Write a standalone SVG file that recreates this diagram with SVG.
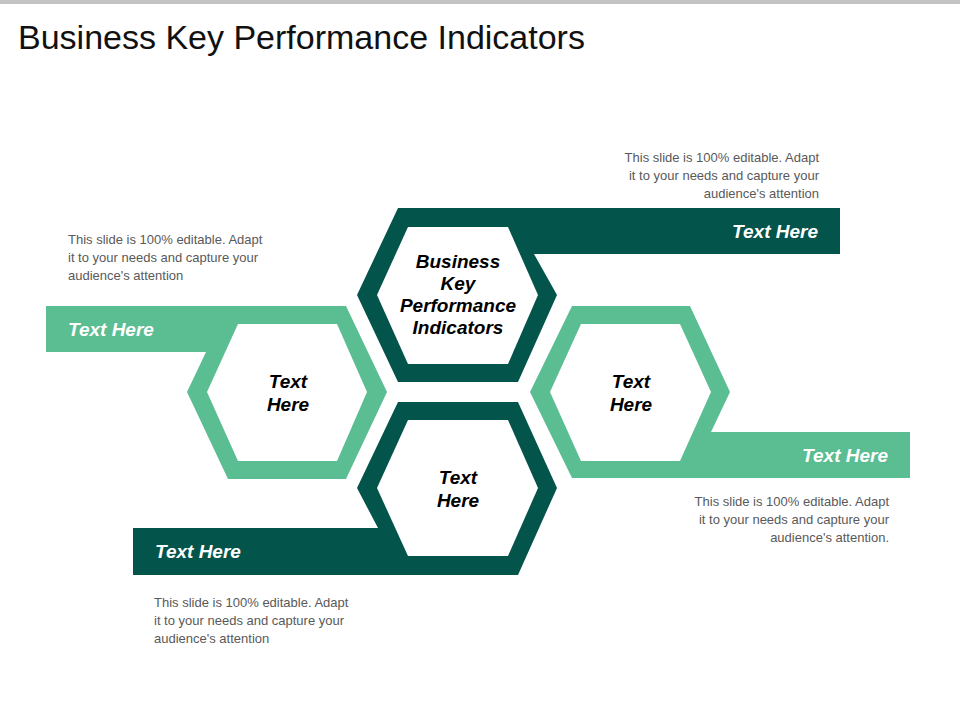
<svg xmlns="http://www.w3.org/2000/svg" width="960" height="720" viewBox="0 0 960 720">
<style>
.d{fill:#03544b}.l{fill:#5bbd92}.w{fill:#fff}
.t{font-family:"Liberation Sans",Arial,sans-serif;font-size:19px;font-weight:bold;font-style:italic}
.b{font-size:13px;fill:#595959;font-family:"Liberation Sans",Arial,sans-serif}
</style>
<rect x="0" y="0" width="960" height="720" fill="#fff"/>
<rect x="0" y="0" width="960" height="4" fill="#c4c4c4"/>
<text x="18" y="49" font-family="Liberation Sans,Arial,sans-serif" font-size="34" fill="#111">Business Key Performance Indicators</text>
<g id="top">
<polygon class="d" points="398,208 840,208 840,254 534,254 557,295 518,382 398,382 357,295"/>
<polygon class="w" points="408,227 508,227 538,295 508,364 408,364 377,295"/>
<text class="t" x="458" y="268" text-anchor="middle">Business</text>
<text class="t" x="458" y="290" text-anchor="middle">Key</text>
<text class="t" x="458" y="312" text-anchor="middle">Performance</text>
<text class="t" x="458" y="334" text-anchor="middle">Indicators</text>
<text class="t" x="818" y="238" text-anchor="end" fill="#fff">Text Here</text>
</g>
<g id="left">
<polygon class="l" points="46,306 346,306 387,392 346,479 228,479 187,392 206,352 46,352"/>
<polygon class="w" points="238,324 337,324 367,392 337,461 238,461 207,392"/>
<text class="t" x="288" y="388" text-anchor="middle">Text</text>
<text class="t" x="288" y="411" text-anchor="middle">Here</text>
<text class="t" x="68" y="336" fill="#fff">Text Here</text>
</g>
<g id="right">
<polygon class="l" points="572,306 690,306 730,392 711,432 910,432 910,478 572,478 530,392"/>
<polygon class="w" points="581,324 680,324 711,392 680,461 581,461 550,392"/>
<text class="t" x="631" y="388" text-anchor="middle">Text</text>
<text class="t" x="631" y="411" text-anchor="middle">Here</text>
<text class="t" x="888" y="462" text-anchor="end" fill="#fff">Text Here</text>
</g>
<g id="bottom">
<polygon class="d" points="398,402 518,402 557,488 518,575 133,575 133,528 378,528 357,488"/>
<polygon class="w" points="408,420 508,420 538,488 508,556 408,556 377,488"/>
<text class="t" x="458" y="484" text-anchor="middle">Text</text>
<text class="t" x="458" y="507" text-anchor="middle">Here</text>
<text class="t" x="155" y="558" fill="#fff">Text Here</text>
</g>
<g id="notes">
<text class="b" text-anchor="end"><tspan x="819" y="162">This slide is 100% editable. Adapt</tspan><tspan x="819" y="180">it to your needs and capture your</tspan><tspan x="819" y="198">audience's attention</tspan></text>
<text class="b"><tspan x="68" y="244">This slide is 100% editable. Adapt</tspan><tspan x="68" y="262">it to your needs and capture your</tspan><tspan x="68" y="280">audience's attention</tspan></text>
<text class="b" text-anchor="end"><tspan x="889" y="506">This slide is 100% editable. Adapt</tspan><tspan x="889" y="524">it to your needs and capture your</tspan><tspan x="889" y="542">audience's attention.</tspan></text>
<text class="b"><tspan x="154" y="607">This slide is 100% editable. Adapt</tspan><tspan x="154" y="625">it to your needs and capture your</tspan><tspan x="154" y="643">audience's attention</tspan></text>
</g>
<g id="connectors"/>
</svg>
